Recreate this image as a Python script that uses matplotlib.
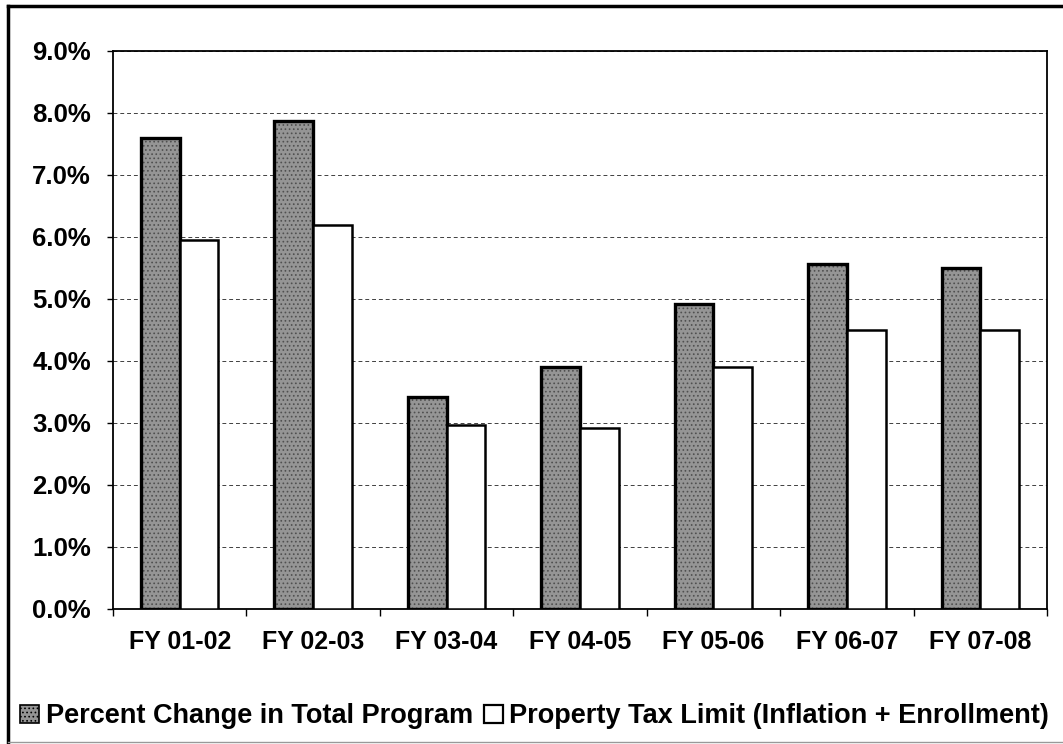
import numpy as np
import matplotlib
matplotlib.use("Agg")
import matplotlib.pyplot as plt
from matplotlib.patches import Patch
from matplotlib.lines import Line2D

plt.rcParams['font.family'] = ['Liberation Sans', 'DejaVu Sans']
plt.rcParams['font.weight'] = 'bold'
plt.rcParams['hatch.linewidth'] = 0.7

years = ["FY 01-02", "FY 02-03", "FY 03-04", "FY 04-05",
         "FY 05-06", "FY 06-07", "FY 07-08"]
total_program = [7.6, 7.87, 3.42, 3.9, 4.92, 5.57, 5.5]
tax_limit = [5.95, 6.2, 2.97, 2.92, 3.9, 4.5, 4.5]
yticks = [0, 1, 2, 3, 4, 5, 6, 7, 8, 9]

fig = plt.figure(figsize=(10.63, 7.44), dpi=100)
ax = fig.add_axes([0.1063, 0.1815, 0.8787, 0.75])

x = np.arange(len(years))
w = 0.29

# textured gray bars, then the black outline on top
ax.bar(x - w / 2, total_program, w, color='#959595', hatch='....',
       edgecolor='#505050', linewidth=0, zorder=2)
ax.bar(x - w / 2, total_program, w, fill=False, edgecolor='black',
       linewidth=2.4, zorder=3)
ax.bar(x + w / 2, tax_limit, w, color='white', edgecolor='black',
       linewidth=1.8, zorder=3)

ax.set_xlim(-0.5, len(years) - 0.5)
ax.set_ylim(0, 9)
ax.set_yticks(yticks)
ax.set_yticklabels([f"{v:.1f}%" for v in yticks], fontsize=18.5, fontweight='bold')
ax.yaxis.grid(True, linestyle=(0, (4, 3)), color='black', linewidth=0.7, alpha=0.75)
ax.set_axisbelow(True)

ax.set_xticks(x)
ax.set_xticklabels(years, fontsize=18, fontweight='bold')
ax.set_xticks(np.arange(-0.5, len(years)), minor=True)
ax.tick_params(axis='x', which='major', length=0, pad=15)
ax.tick_params(axis='x', which='minor', length=5, width=1, direction='out')
ax.tick_params(axis='y', length=4, width=1, pad=12)

for s in ax.spines.values():
    s.set_linewidth(1.3)
    s.set_color('black')

handles = [Patch(facecolor='#959595', hatch='....', edgecolor='black', linewidth=1.2),
           Patch(facecolor='white', edgecolor='black', linewidth=1.6)]
labels = ["Percent Change in Total Program",
          "Property Tax Limit (Inflation + Enrollment)"]
fig.legend(handles, labels, loc='center', bbox_to_anchor=(0.503, 0.037),
           ncol=2, frameon=False, handlelength=0.7, handleheight=0.7,
           handletextpad=0.25, columnspacing=0.4,
           prop={'size': 19.5, 'weight': 'bold'})

# outer frame of the scanned chart
fig.add_artist(Line2D([0.0075, 0.0075], [0.0, 0.9915], transform=fig.transFigure,
                      color='black', linewidth=2.5))
fig.add_artist(Line2D([0.0075, 1.0], [0.9915, 0.9915], transform=fig.transFigure,
                      color='black', linewidth=2.5))
fig.add_artist(Line2D([0.0075, 1.0], [0.003, 0.003], transform=fig.transFigure,
                      color='#999999', linewidth=1.0))

fig.savefig("out.png", dpi=100)
